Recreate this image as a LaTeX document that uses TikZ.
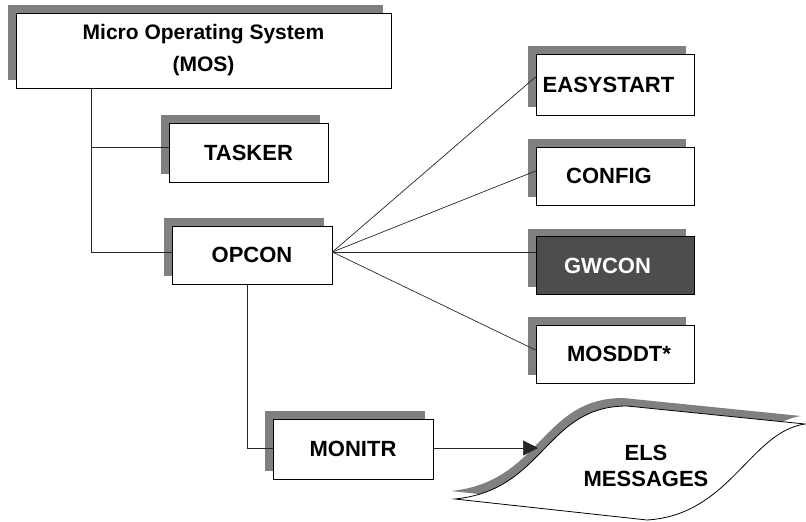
\documentclass[tikz,border=0pt]{standalone}
\usepackage{fontspec}
\setmainfont{Liberation Sans}
\usetikzlibrary{arrows.meta,shadows,calc}
\definecolor{shgray}{HTML}{808080}
\definecolor{boxdark}{HTML}{4D4D4D}
\begin{document}
\begin{tikzpicture}[x=1pt,y=-1pt,
  boxfont/.style={font=\fontsize{22}{26}\selectfont\bfseries},
  box/.style={draw=black, line width=0.9pt, fill=white,
    minimum width=158pt, minimum height=58pt, inner sep=0pt, boxfont,
    drop shadow={shadow xshift=-8pt, shadow yshift=8pt, opacity=1,
      fill=shgray, draw=none}},
  conn/.style={line width=0.7pt, draw=black!85},
  elspath/.style={insert path={(455,499) .. controls (545,490) and (545,406) .. (627,406)
    -- (805,424) .. controls (750,432) and (730,515) .. (647,520) -- cycle}}]
\useasboundingbox (0,0) rectangle (806,522);

% module boxes
\node[box, minimum width=375pt, minimum height=75pt, align=center,
  font=\fontsize{21}{32}\selectfont\bfseries] (mos) at (203.5,50.5)
  {Micro Operating System\\(MOS)};
\node[box, minimum width=159pt, minimum height=59pt] (tasker) at (248.5,152.5) {\raisebox{-3pt}{TASKER}};
\node[box, minimum width=160pt] (opcon) at (252,255) {\raisebox{-3pt}{OPCON}};
\node[box, minimum height=61pt] (easy) at (615,84.5) {\hspace*{-13pt}EASYSTART};
\node[box] (config) at (615,176) {\hspace*{-12pt}CONFIG};
\node[box, fill=boxdark, text=white] (gwcon) at (615,265.5) {\hspace*{-15pt}GWCON};
\node[box] (mosddt) at (615,354) {\hspace*{8pt}MOSDDT*};
\node[box, minimum width=160pt, minimum height=60pt] (monitr) at (353,449) {\raisebox{-4pt}{MONITR}};

% tree connectors
\coordinate (mosdrop) at (91,88);
\draw[conn] (mosdrop) |- ([yshift=3pt]opcon.west);
\draw[conn] (mosdrop |- {(0,147)}) -- (mosdrop |- {(0,147)} -| tasker.west);
\draw[conn] ([xshift=-5pt]opcon.south) |- ([yshift=1pt]monitr.west);

% fan-out from OPCON
\coordinate (fan) at ([yshift=3pt]opcon.east);
\draw[conn] (fan) -- ([yshift=7.5pt]easy.west);
\draw[conn] (fan) -- ([yshift=5pt]config.west);
\draw[conn] (fan) -- (fan -| gwcon.west);
\draw[conn] (fan) -- ([yshift=4pt]mosddt.west);

% ELS messages (tape shape with shadow)
\fill[shgray, shift={(-4,-8)}, elspath];
\draw[line width=0.8pt, fill=white, elspath];
\node[align=center, font=\fontsize{22}{26.5}\selectfont\bfseries] (els) at (646,466)
  {ELS\\MESSAGES};

\coordinate (elsin) at (538,448);
\draw[conn, -{Triangle[length=15pt,width=15pt]}] ([yshift=1pt]monitr.east) -- (elsin);
\end{tikzpicture}
\end{document}
